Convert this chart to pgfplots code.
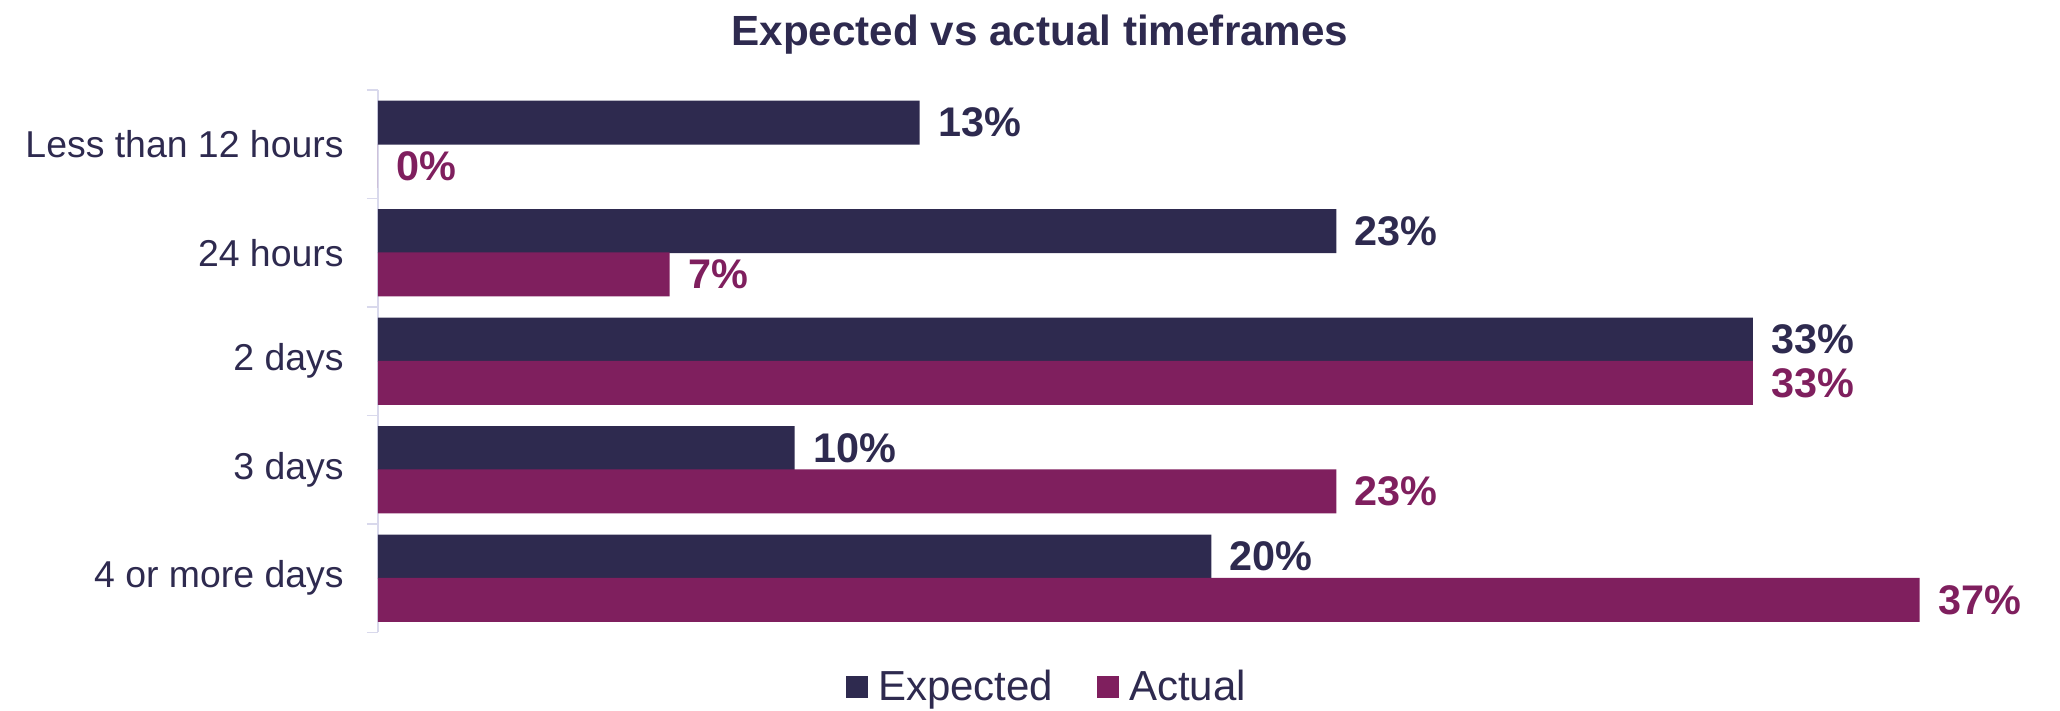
\documentclass[border=0pt]{standalone}
\usepackage{pgfplots}
\pgfplotsset{compat=1.18}
\usepackage{fontspec}
\setmainfont{Liberation Sans}
\definecolor{navy}{HTML}{2E2A4F}
\definecolor{plum}{HTML}{7F1F5E}
\definecolor{axisgray}{HTML}{D9D9EC}
\begin{document}
\begin{tikzpicture}
\begin{axis}[
  x=20.833pt, y=54.25pt, y dir=reverse,
  xmin=0, xmax=40, ymin=-0.5, ymax=4.5,
  axis x line=none, axis y line*=left,
  axis line style={axisgray, line width=0.8pt, -},
  ytick={0,1,2,3,4},
  yticklabels={Less than 12 hours, 24 hours, 2 days, 3 days, 4 or more days},
  minor ytick={-0.5,0.5,1.5,2.5,3.5,4.5},
  major tick length=0pt, minor tick length=5.5pt, tick align=outside,
  minor tick style={axisgray, line width=0.8pt},
  yticklabel style={font=\fontsize{18.7}{22}\selectfont, text=navy, inner sep=0pt, xshift=-17pt},
  xbar, bar width=0.405, bar shift=0pt,
  clip=false,
  point meta=x,
  /pgf/number format/assume math mode=true,
  nodes near coords={\pgfmathprintnumber{\pgfplotspointmeta}\%},
  nodes near coords style={font=\fontsize{20.7}{24}\bfseries\selectfont, anchor=west, inner sep=0pt, xshift=9pt},
  legend style={at={(axis description cs:0.402,-0.10)}, anchor=center, draw=none, fill=none,
    legend columns=-1, font=\fontsize{21}{25}\selectfont, text=navy,
    /tikz/every even column/.append style={column sep=20pt}},
  legend image code/.code={\fill[#1] (0pt,-5.5pt) rectangle (11pt,5.5pt); \path (0pt,0pt) (14pt,0pt);},
]
\addplot[fill=navy, draw=none, nodes near coords style={text=navy}]
  coordinates {(13,-0.2) (23,0.8) (33,1.8) (10,2.8) (20,3.8)};
\addlegendentry{Expected}
\addplot[fill=plum, draw=none, nodes near coords style={text=plum}]
  coordinates {(0,0.2) (7,1.2) (33,2.2) (23,3.2) (37,4.2)};
\addlegendentry{Actual}
\node[font=\fontsize{21.1}{25}\bfseries\selectfont, text=navy, yshift=27.5pt] at (axis description cs:0.3972,1) {Expected vs actual timeframes};
\end{axis}
\pgfresetboundingbox
\path ([shift={(-189pt,-39pt)}]current axis.south west) rectangle ([shift={(7.7pt,45pt)}]current axis.north east);
\end{tikzpicture}
\end{document}
